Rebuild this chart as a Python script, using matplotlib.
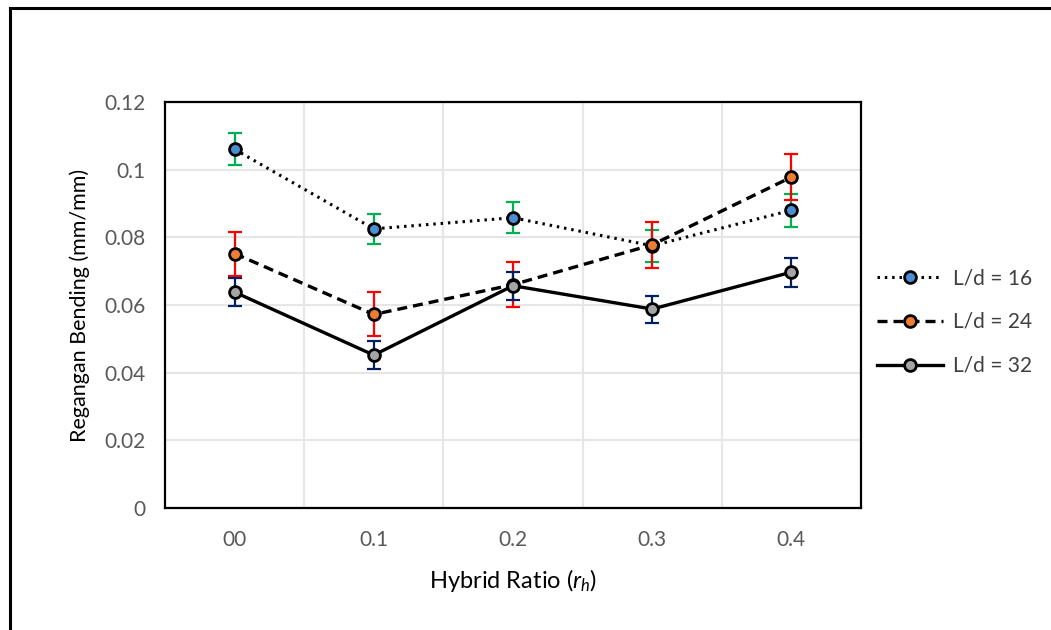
import numpy as np
import matplotlib
matplotlib.use("Agg")
import matplotlib.pyplot as plt
from matplotlib.lines import Line2D

plt.rcParams['font.family'] = ['Lato', 'DejaVu Sans']
plt.rcParams['mathtext.fontset'] = 'custom'
plt.rcParams['mathtext.it'] = 'Lato:italic'
plt.rcParams['mathtext.rm'] = 'Lato'

# =========================
# DATA
# =========================
categories = ["00", "0.1", "0.2", "0.3", "0.4"]

ld16 = [0.106, 0.0825, 0.0858, 0.0775, 0.0880]
ld16_err = [0.0047, 0.0045, 0.0045, 0.0047, 0.0048]

ld24 = [0.0752, 0.0572, 0.0660, 0.0778, 0.0978]
ld24_err = [0.0065, 0.0065, 0.0066, 0.0068, 0.0068]

ld32 = [0.0638, 0.0452, 0.0657, 0.0588, 0.0697]
ld32_err = [0.0042, 0.0042, 0.0042, 0.0040, 0.0043]

labels = ["L/d = 16", "L/d = 24", "L/d = 32"]

# =========================
# PLOT
# =========================
fig = plt.figure(figsize=(10.51, 6.30), dpi=100)
ax = fig.add_axes([165 / 1051, 122 / 630, 696 / 1051, 406 / 630])

x = np.arange(len(categories))

styles = [
    dict(vals=ld16, err=ld16_err, ls=(0, (0.8, 1.6)), mfc='#4A8FD6', ecol='#00B050', lw=2.2),
    dict(vals=ld24, err=ld24_err, ls=(0, (3.0, 1.8)), mfc='#ED7D31', ecol='#FF0000', lw=2.4),
    dict(vals=ld32, err=ld32_err, ls='-', mfc='#A5A5A5', ecol='#002060', lw=2.4),
]

handles = []
for s, lab in zip(styles, labels):
    ax.errorbar(x, s['vals'], yerr=s['err'], fmt='none', ecolor=s['ecol'],
                elinewidth=1.6, capsize=5, capthick=1.6, zorder=3)
    ax.plot(x, s['vals'], color='black', linestyle=s['ls'], linewidth=s['lw'],
            zorder=4)
    ax.plot(x, s['vals'], linestyle='none', marker='o', markersize=8.5,
            markerfacecolor=s['mfc'], markeredgecolor='black',
            markeredgewidth=2.0, zorder=5)
    handles.append(Line2D([], [], color='black', linestyle=s['ls'], linewidth=s['lw'],
                          marker='o', markersize=8.5, markerfacecolor=s['mfc'],
                          markeredgecolor='black', markeredgewidth=2.0))

ax.set_xlim(-0.5, len(categories) - 0.5)
ax.set_ylim(0, 0.12)
ax.set_xticks(x)
ax.set_xticklabels(categories)
ax.set_yticks(np.arange(0, 0.121, 0.02))
ax.set_yticklabels(["0", "0.02", "0.04", "0.06", "0.08", "0.1", "0.12"])
ax.set_xticks(np.arange(0.5, len(categories) - 0.5, 1.0), minor=True)
ax.tick_params(which='both', length=0)
ax.tick_params(axis='both', labelsize=15, labelcolor='#595959', pad=14)
ax.tick_params(axis='x', pad=16)

ax.grid(axis='y', which='major', color='#E6E6E6', linewidth=1.5)
ax.grid(axis='x', which='minor', color='#E6E6E6', linewidth=1.5)
ax.set_axisbelow(True)
for sp in ax.spines.values():
    sp.set_linewidth(1.6)
    sp.set_color('black')

ax.set_ylabel("Regangan Bending (mm/mm)", fontsize=15.5, labelpad=10)
ax.set_xlabel("Hybrid Ratio ($\\mathit{r_h}$)", fontsize=17, labelpad=12)

fig.legend(handles, labels, loc='center left',
           bbox_to_anchor=(858 / 1051, 1 - 322 / 630), frameon=False,
           fontsize=15, labelspacing=1.15, handlelength=3.2, handletextpad=0.45,
           labelcolor='#404040')

# cornice della figura (solo lati sinistro e superiore)
fig.add_artist(Line2D([10 / 1051, 1.0], [1 - 8 / 630, 1 - 8 / 630],
                      transform=fig.transFigure, color='black', linewidth=2.2))
fig.add_artist(Line2D([10 / 1051, 10 / 1051], [0, 1 - 8 / 630],
                      transform=fig.transFigure, color='black', linewidth=2.2))

plt.savefig("out.png", dpi=100)
plt.close()
